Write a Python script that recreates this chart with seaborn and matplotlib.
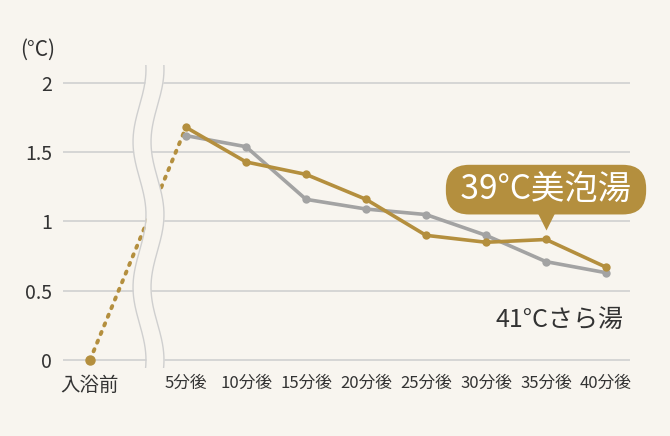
import numpy as np
import pandas as pd
import seaborn as sns
import matplotlib.pyplot as plt

# data
labels = ["入浴前", "5分後", "10分後", "15分後", "20分後", "25分後", "30分後", "35分後", "40分後"]
bihoutou = [0, 1.68, 1.43, 1.34, 1.16, 0.90, 0.85, 0.87, 0.67]   # 39°C美泡湯
saraYu = [1.62, 1.54, 1.16, 1.09, 1.05, 0.90, 0.71, 0.63]          # 41°Cさら湯 (from 5分後)

gold = "#b48f3e"
grey = "#a3a3a3"
bg = "#f8f5ef"
txt = "#333333"

# x positions: 入浴前 sits left of the axis break
xpos = [-0.6] + list(range(1, 9))

df = pd.DataFrame({
    "x": xpos[1:] * 2,
    "y": bihoutou[1:] + saraYu,
    "series": ["39°C美泡湯"] * 8 + ["41°Cさら湯"] * 8,
})

sns.set_theme(style="white")
plt.rcParams['font.family'] = ['Noto Sans CJK JP', 'DejaVu Sans']

fig = plt.figure(figsize=(6.7, 4.36), dpi=100, facecolor=bg)
ax = fig.add_axes([63 / 670, (436 - 368) / 436, 567 / 670, 303 / 436])
ax.set_facecolor(bg)

# dotted lead-in from 入浴前 to 5分後
ax.plot(xpos[:2], bihoutou[:2], ls=(0, (0.6, 1.8)), lw=2.8, color=gold,
        dash_capstyle="round", zorder=2)
ax.plot(xpos[0], bihoutou[0], "o", ms=6.5, color=gold, zorder=3)

# axis break (two wavy lines, gap filled with background)
yy = np.linspace(-0.1, 2.2, 300)
xl = 0.225 + 0.108 * np.cos(2 * np.pi * yy / 1.05)
xr = xl + 0.3
ax.fill_betweenx(yy, xl, xr, color=bg, zorder=4, lw=0)
ax.plot(xl, yy, color="#cfcfcf", lw=1, zorder=5)
ax.plot(xr, yy, color="#cfcfcf", lw=1, zorder=5)

sns.lineplot(data=df, x="x", y="y", hue="series", palette=[gold, grey],
             hue_order=["39°C美泡湯", "41°Cさら湯"], marker="o",
             markersize=6, markeredgewidth=0, lw=2.6, ax=ax, legend=False)
# gold drawn over grey
ax.lines[-1].set_zorder(6)
ax.lines[-2].set_zorder(7)

ax.set_xlim(-1.05, 8.4)
ax.set_ylim(-0.058, 2.13)
ax.set_yticks([0, 0.5, 1, 1.5, 2])
ax.set_yticklabels(["0", "0.5", "1", "1.5", "2"], fontsize=14, color=txt)
ax.set_xticks(xpos)
ax.set_xticklabels(labels, color=txt)
for i, t in enumerate(ax.get_xticklabels()):
    t.set_fontsize(14 if i == 0 else 12)
ax.tick_params(axis="both", length=0)
ax.tick_params(axis="y", pad=8)
ax.tick_params(axis="x", pad=5)
ax.yaxis.grid(True, color="#d3d3d3", lw=1.3, zorder=0)
ax.set_axisbelow(True)
for s in ax.spines.values():
    s.set_visible(False)
ax.set_xlabel("")
ax.set_ylabel("")

# labels
ax.text(7.0, 1.23, " 39°C美泡湯 ", color="white", fontsize=24, ha="center",
        va="center", zorder=9,
        bbox=dict(boxstyle="round,pad=0.22,rounding_size=0.7", fc=gold, ec="none"))
ax.plot(7.0, 1.0, marker="v", ms=13, color=gold, mec="none", zorder=8)
ax.text(7.22, 0.29, "41°Cさら湯", color=txt, fontsize=18, ha="center", va="center")
fig.text(38 / 670, 1 - 50 / 436, "(°C)", color=txt, fontsize=15, ha="center", va="center")

fig.savefig("out.png", dpi=100, facecolor=bg)
